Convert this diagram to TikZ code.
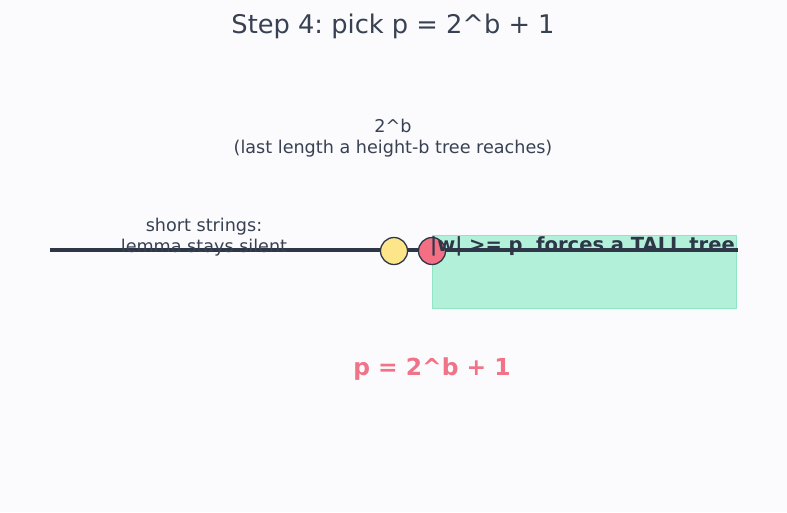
\documentclass[tikz,border=0pt]{standalone}
\usepackage{fontspec}
\setmainfont{DejaVu Sans}
\frenchspacing
\definecolor{bg}{HTML}{FBFBFE}
\definecolor{ink}{HTML}{2D3748}
\definecolor{txt}{HTML}{374151}
\definecolor{mint}{HTML}{B2F0D9}
\definecolor{mintb}{HTML}{8EE6C4}
\definecolor{yel}{HTML}{FDE68A}
\definecolor{rose}{HTML}{F56F84}
\definecolor{rosetxt}{HTML}{F07388}
\begin{document}
\begin{tikzpicture}[x=1pt,y=-1pt,
  lbl/.style={text=txt,font=\fontsize{17.6}{20.5}\selectfont,align=center,inner sep=0pt},
  dot/.style={circle,draw=ink,line width=1.3pt,minimum size=27pt,inner sep=0pt}]
\fill[bg] (0,0) rectangle (787,512);
\useasboundingbox (0,0) rectangle (787,512);
\node[text=txt,font=\fontsize{25.7}{30}\selectfont,inner sep=0pt] (title) at (393,26.5) {Step 4: pick p = 2\^{}b + 1};
\node[lbl] (pow) at (393,138) {2\^{}b\\(last length a height-b tree reaches)};
\node[draw=mintb,fill=mint,line width=0.8pt,minimum width=304pt,minimum height=73pt,inner sep=0pt,anchor=north west] (zone) at (432,235) {};
\coordinate (l0) at (50,250);
\coordinate (l1) at (738,250);
\draw[ink,line width=3.8pt] (l0) -- (l1);
\node[lbl] (short) at (204,237) {short strings:\\lemma stays silent};
\node[dot,fill=yel] (yc) at (394,251) {};
\node[dot,fill=rose] (rc) at (432,251) {};
\node[text=ink,font=\bfseries\fontsize{19.5}{22}\selectfont,inner sep=0pt,anchor=base west] (tall) at (430,251) {|w| >= p\ \ forces a TALL tree};
\node[text=rosetxt,font=\bfseries\fontsize{23.4}{26}\selectfont,inner sep=0pt] (pp) at (432,369.5) {p = 2\^{}b + 1};
\end{tikzpicture}
\end{document}
